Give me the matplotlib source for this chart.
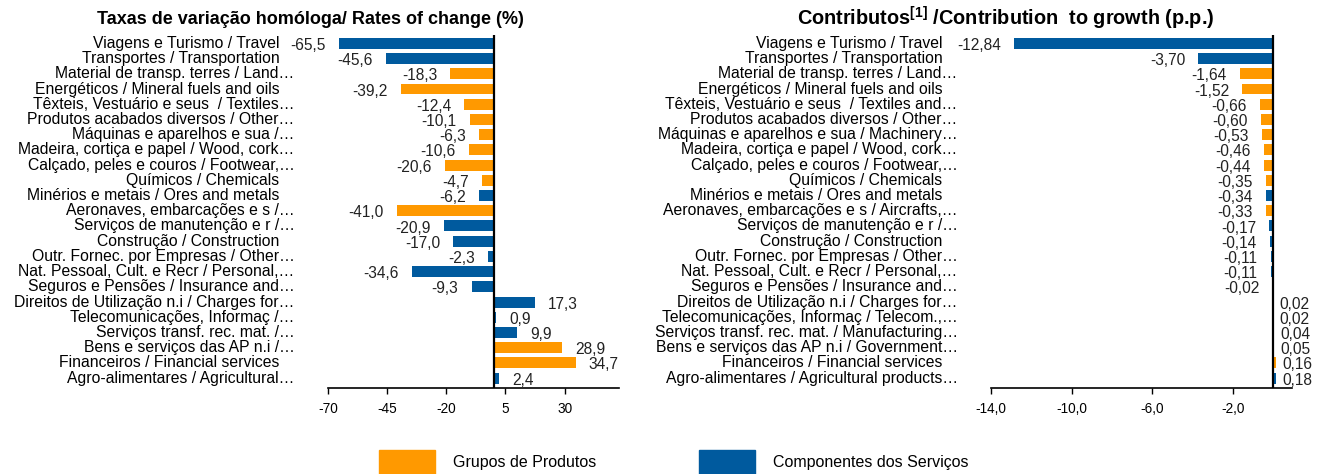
import numpy as np
import matplotlib
matplotlib.use("Agg")
from matplotlib import pyplot as plt
from matplotlib.patches import Rectangle

plt.rcParams['font.family'] = ['Liberation Sans', 'DejaVu Sans']
plt.rcParams['mathtext.fontset'] = 'custom'
plt.rcParams['mathtext.rm'] = 'Liberation Sans'
plt.rcParams['mathtext.bf'] = 'Liberation Sans:bold'

ORANGE = "#FF9900"
BLUE = "#005A9E"

labels_rate = [
    "Viagens e Turismo / Travel",
    "Transportes / Transportation",
    "Material de transp. terres / Land…",
    "Energéticos / Mineral fuels and oils",
    "Têxteis, Vestuário e seus  / Textiles…",
    "Produtos acabados diversos / Other…",
    "Máquinas e aparelhos e sua /…",
    "Madeira, cortiça e papel / Wood, cork…",
    "Calçado, peles e couros / Footwear,…",
    "Químicos / Chemicals",
    "Minérios e metais / Ores and metals",
    "Aeronaves, embarcações e s /…",
    "Serviços de manutenção e r /…",
    "Construção / Construction",
    "Outr. Fornec. por Empresas / Other…",
    "Nat. Pessoal, Cult. e Recr / Personal,…",
    "Seguros e Pensões / Insurance and…",
    "Direitos de Utilização n.i / Charges for…",
    "Telecomunicações, Informaç /…",
    "Serviços transf. rec. mat. /…",
    "Bens e serviços das AP n.i /…",
    "Financeiros / Financial services",
    "Agro-alimentares / Agricultural…",
]

labels_contrib = [
    "Viagens e Turismo / Travel",
    "Transportes / Transportation",
    "Material de transp. terres / Land…",
    "Energéticos / Mineral fuels and oils",
    "Têxteis, Vestuário e seus  / Textiles and…",
    "Produtos acabados diversos / Other…",
    "Máquinas e aparelhos e sua / Machinery…",
    "Madeira, cortiça e papel / Wood, cork…",
    "Calçado, peles e couros / Footwear,…",
    "Químicos / Chemicals",
    "Minérios e metais / Ores and metals",
    "Aeronaves, embarcações e s / Aircrafts,…",
    "Serviços de manutenção e r /…",
    "Construção / Construction",
    "Outr. Fornec. por Empresas / Other…",
    "Nat. Pessoal, Cult. e Recr / Personal,…",
    "Seguros e Pensões / Insurance and…",
    "Direitos de Utilização n.i / Charges for…",
    "Telecomunicações, Informaç / Telecom.,…",
    "Serviços transf. rec. mat. / Manufacturing…",
    "Bens e serviços das AP n.i / Government…",
    "Financeiros / Financial services",
    "Agro-alimentares / Agricultural products…",
]

# P = Grupos de Produtos, S = Componentes dos Serviços
groups = ["S", "S", "P", "P", "P", "P", "P", "P", "P", "P", "S", "P",
          "S", "S", "S", "S", "S", "S", "S", "S", "P", "P", "S"]

rates = [-65.5, -45.6, -18.3, -39.2, -12.4, -10.1, -6.3, -10.6, -20.6, -4.7, -6.2, -41.0,
         -20.9, -17.0, -2.3, -34.6, -9.3, 17.3, 0.9, 9.9, 28.9, 34.7, 2.4]

contribs = [-12.84, -3.70, -1.64, -1.52, -0.66, -0.60, -0.53, -0.46, -0.44, -0.35, -0.34, -0.33,
            -0.17, -0.14, -0.11, -0.11, -0.02, 0.02, 0.02, 0.04, 0.05, 0.16, 0.18]

legend_labels = {"P": "Grupos de Produtos", "S": "Componentes dos Serviços"}
colors = [ORANGE if g == "P" else BLUE for g in groups]


def draw_panel(ax, values, labels, decimals, xlim, xticks, pos_off):
    y = np.arange(len(values))
    ax.barh(y, values, height=0.72, color=colors, zorder=2)
    ax.axvline(0, color="black", lw=1.6, zorder=3)
    ax.set_xlim(*xlim)
    ax.set_ylim(len(values) - 0.35, -0.55)
    ax.set_yticks([])
    # category labels; Excel leaves the untruncated ones a bit short of the ellipsis ones
    for yi, s in zip(y, labels):
        off = -24 if s.endswith("…") else -35
        ax.annotate(s, (0, yi), xycoords=ax.get_yaxis_transform(), xytext=(off, 0),
                    textcoords="offset points", ha="right", va="center", fontsize=11.3)
    ax.set_xticks(xticks)
    ax.set_xticklabels(["{:.1f}".format(t).replace(".", ",") if decimals else str(t) for t in xticks],
                       fontsize=9.8)
    ax.tick_params(axis="x", direction="out", length=4, width=1, pad=6)
    for s in ["left", "right", "top"]:
        ax.spines[s].set_visible(False)
    ax.spines["bottom"].set_linewidth(1.2)
    for yi, v in zip(y, values):
        txt = ("{:.1f}".format(v) if decimals == 0 else "{:.2f}".format(v)).replace(".", ",")
        off = -9.5 if v < 0 else pos_off
        ax.annotate(txt, (v, yi), xytext=(off, -1.5), textcoords="offset points",
                    ha="right" if v < 0 else "left", va="center", fontsize=11.2, color="#222222")


fig = plt.figure(figsize=(13.24, 4.74), dpi=100)

ax1 = fig.add_axes([328 / 1324, 1 - 388 / 474, 291 / 1324, 353 / 474])
draw_panel(ax1, rates, labels_rate, 0, (-70, 53), [-70, -45, -20, 5, 30], 9.5)

ax2 = fig.add_axes([991 / 1324, 1 - 388 / 474, 301 / 1324, 353 / 474])
draw_panel(ax2, contribs, labels_contrib, 1, (-14, 0.95), [-14, -10, -6, -2], 4.5)

fig.text(310 / 1324, 1 - 19 / 474, "Taxas de variação homóloga/ Rates of change (%)",
         ha="center", va="center", fontsize=13, fontweight="bold")
fig.text(1006 / 1324, 1 - 18 / 474,
         r"Contributos$^{\mathbf{[1]}}$ /Contribution  to growth (p.p.)",
         ha="center", va="center", fontsize=14.3, fontweight="bold")

# legend
for x0, g in [(379, "P"), (699, "S")]:
    fig.patches.append(Rectangle((x0 / 1324, 0), 56 / 1324, 24 / 474,
                                 transform=fig.transFigure, color=ORANGE if g == "P" else BLUE))
    fig.text((x0 + 74) / 1324, 1 - 462 / 474, legend_labels[g], ha="left", va="center",
             fontsize=11.5)

fig.savefig("out.png", dpi=100)
